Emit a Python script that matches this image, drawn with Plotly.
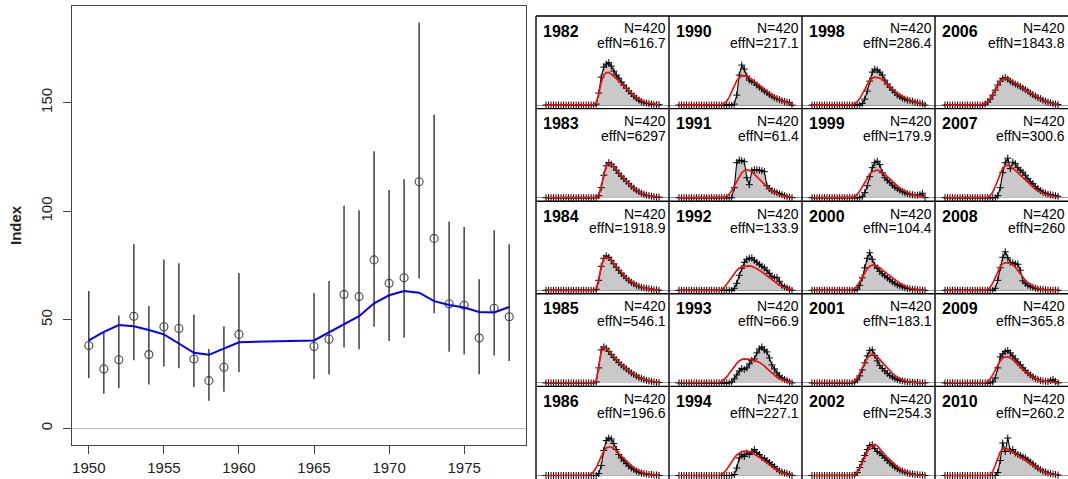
import plotly.graph_objects as go

# ---------------- survey index (left panel) ----------------
years = [1950, 1951, 1952, 1953, 1954, 1955, 1956, 1957, 1958, 1959, 1960,
         1965, 1966, 1967, 1968, 1969, 1970, 1971, 1972, 1973, 1974, 1975,
         1976, 1977, 1978]
index_obs = [38.2, 27.4, 31.6, 51.6, 34.0, 46.8, 46.0, 32.0, 22.0, 28.2, 43.3,
             37.7, 41.1, 61.7, 60.7, 77.6, 66.8, 69.4, 113.6, 87.5, 57.4, 56.7,
             41.6, 55.3, 51.4]
ci_upper = [63.3, 44.3, 52.0, 84.8, 56.4, 77.8, 76.1, 52.5, 36.6, 47.1, 71.6,
            62.4, 67.9, 102.5, 100.5, 127.6, 109.8, 114.7, 186.9, 144.6, 95.3,
            92.7, 68.7, 91.3, 84.8]
ci_lower = [23.2, 16.0, 18.6, 31.4, 20.2, 28.5, 27.7, 19.1, 12.8, 16.9, 26.0,
            22.8, 24.8, 37.3, 36.5, 46.8, 40.2, 41.7, 69.0, 53.0, 35.3, 34.0,
            24.9, 33.6, 31.1]
index_fit = [40.5, 44.5, 47.6, 47.0, 45.3, 43.3, 39.1, 34.8, 33.9, 36.8, 39.7,
             40.5, 44.3, 47.9, 51.7, 57.6, 61.3, 63.3, 62.5, 58.6, 56.8, 55.7,
             53.6, 53.4, 55.9]
x_ticks = [1950, 1955, 1960, 1965, 1970, 1975]
y_ticks = [0, 50, 100, 150]

# ---------------- length compositions (right panels) ----------------
length_bins = list(range(10, 102, 2))  # 46 bins

panel_years = [1982, 1983, 1984, 1985, 1986,
               1990, 1991, 1992, 1993, 1994,
               1998, 1999, 2000, 2001, 2002,
               2006, 2007, 2008, 2009, 2010]
n_samp = [420] * 20
eff_n = [616.7, 6297, 1918.9, 546.1, 196.6,
         217.1, 61.4, 133.9, 66.9, 227.1,
         286.4, 179.9, 104.4, 183.1, 254.3,
         1843.8, 300.6, 260, 365.8, 260.2]

obs_1982 = [0, 0, 0, 0, 0, 0, 0, 0, 0, 0, 0, 0, 0, 0, 0, 0, 0, 0, 0, 0,
            0.002, 0.024, 0.056, 0.076, 0.082, 0.085, 0.078, 0.068, 0.060, 0.054, 0.046, 0.040, 0.034,
            0.028, 0.023, 0.018, 0.014, 0.010, 0.007, 0.005, 0.004, 0.003, 0.002, 0.001, 0.001, 0.001]
exp_1982 = [0, 0, 0, 0, 0, 0, 0, 0, 0, 0, 0, 0, 0, 0, 0, 0, 0, 0, 0,
            0.001, 0.004, 0.022, 0.046, 0.060, 0.065, 0.065, 0.062, 0.058, 0.053, 0.048, 0.043, 0.038,
            0.033, 0.028, 0.023, 0.019, 0.015, 0.012, 0.009, 0.007, 0.005, 0.004, 0.003, 0.002, 0.001, 0.001]

obs_1983 = [0, 0, 0, 0, 0, 0, 0, 0, 0, 0, 0, 0, 0, 0, 0, 0, 0, 0, 0, 0, 0,
            0.004, 0.020, 0.045, 0.064, 0.070, 0.067, 0.062, 0.055, 0.049, 0.043, 0.038, 0.033, 0.028,
            0.023, 0.019, 0.015, 0.012, 0.009, 0.007, 0.005, 0.004, 0.003, 0.002, 0.001, 0.001]
exp_1983 = [0, 0, 0, 0, 0, 0, 0, 0, 0, 0, 0, 0, 0, 0, 0, 0, 0, 0, 0, 0,
            0.001, 0.006, 0.022, 0.046, 0.064, 0.069, 0.067, 0.062, 0.056, 0.050, 0.044, 0.038, 0.033,
            0.028, 0.023, 0.019, 0.015, 0.012, 0.009, 0.007, 0.005, 0.004, 0.003, 0.002, 0.001, 0.001]

obs_1984 = [0, 0, 0, 0, 0, 0, 0, 0, 0, 0, 0, 0, 0, 0, 0, 0, 0, 0, 0, 0,
            0.002, 0.020, 0.048, 0.064, 0.069, 0.066, 0.060, 0.053, 0.046, 0.040, 0.034, 0.029, 0.024,
            0.020, 0.016, 0.013, 0.010, 0.008, 0.006, 0.005, 0.004, 0.003, 0.002, 0.001, 0.001, 0]
exp_1984 = [0, 0, 0, 0, 0, 0, 0, 0, 0, 0, 0, 0, 0, 0, 0, 0, 0, 0, 0, 0,
            0.003, 0.022, 0.048, 0.063, 0.066, 0.064, 0.059, 0.053, 0.047, 0.041, 0.035, 0.030, 0.025,
            0.021, 0.017, 0.013, 0.010, 0.008, 0.006, 0.005, 0.004, 0.003, 0.002, 0.001, 0.001, 0]

obs_1985 = [0, 0, 0, 0, 0, 0, 0, 0, 0, 0, 0, 0, 0, 0, 0, 0, 0, 0, 0, 0,
            0.002, 0.030, 0.066, 0.072, 0.069, 0.063, 0.057, 0.051, 0.046, 0.041, 0.036, 0.032, 0.028,
            0.024, 0.020, 0.017, 0.014, 0.011, 0.009, 0.007, 0.005, 0.004, 0.003, 0.002, 0.001, 0.001]
exp_1985 = [0, 0, 0, 0, 0, 0, 0, 0, 0, 0, 0, 0, 0, 0, 0, 0, 0, 0, 0, 0,
            0.004, 0.030, 0.062, 0.071, 0.069, 0.064, 0.058, 0.052, 0.047, 0.042, 0.037, 0.032, 0.028,
            0.024, 0.020, 0.017, 0.014, 0.011, 0.009, 0.007, 0.005, 0.004, 0.003, 0.002, 0.001, 0.001]

obs_1986 = [0, 0, 0, 0, 0, 0, 0, 0, 0, 0, 0, 0, 0, 0, 0, 0, 0, 0, 0, 0, 0,
            0.004, 0.020, 0.050, 0.070, 0.075, 0.073, 0.064, 0.052, 0.042, 0.035, 0.029, 0.024, 0.019,
            0.015, 0.012, 0.009, 0.007, 0.005, 0.004, 0.003, 0.002, 0.002, 0.001, 0.001, 0]
exp_1986 = [0, 0, 0, 0, 0, 0, 0, 0, 0, 0, 0, 0, 0, 0, 0, 0, 0,
            0.001, 0.003, 0.008, 0.016, 0.027, 0.039, 0.049, 0.055, 0.057, 0.057, 0.054, 0.049, 0.044,
            0.038, 0.033, 0.028, 0.023, 0.019, 0.015, 0.012, 0.009, 0.007, 0.005, 0.004, 0.003, 0.002,
            0.001, 0.001, 0]

obs_1990 = [0, 0, 0, 0, 0, 0, 0, 0, 0, 0, 0, 0, 0, 0, 0, 0, 0, 0, 0, 0, 0, 0,
            0.002, 0.020, 0.060, 0.080, 0.072, 0.058, 0.050, 0.047, 0.045, 0.040, 0.036, 0.032, 0.028,
            0.025, 0.021, 0.018, 0.015, 0.013, 0.011, 0.009, 0.007, 0.006, 0.005, 0]
exp_1990 = [0, 0, 0, 0, 0, 0, 0, 0, 0, 0, 0, 0, 0, 0, 0, 0, 0,
            0.001, 0.003, 0.008, 0.016, 0.027, 0.039, 0.049, 0.055, 0.058, 0.059, 0.058, 0.055, 0.051,
            0.047, 0.043, 0.039, 0.035, 0.031, 0.027, 0.023, 0.020, 0.017, 0.014, 0.011, 0.009, 0.007,
            0.005, 0.003, 0.002]

obs_1991 = [0, 0, 0, 0, 0, 0, 0, 0, 0, 0, 0, 0, 0, 0, 0, 0, 0, 0, 0, 0, 0, 0,
            0.020, 0.070, 0.075, 0.074, 0.072, 0.040, 0.026, 0.054, 0.056, 0.056, 0.055, 0.054, 0.052,
            0.024, 0.018, 0.014, 0.012, 0.010, 0.008, 0.006, 0.004, 0.002, 0.001, 0]
exp_1991 = [0, 0, 0, 0, 0, 0, 0, 0, 0, 0, 0, 0, 0, 0, 0, 0, 0, 0,
            0.001, 0.003, 0.007, 0.014, 0.023, 0.033, 0.042, 0.050, 0.054, 0.056, 0.055, 0.052, 0.047,
            0.042, 0.036, 0.031, 0.026, 0.021, 0.017, 0.014, 0.011, 0.008, 0.006, 0.004, 0.003, 0.002,
            0.001, 0.001]

obs_1992 = [0, 0, 0, 0, 0, 0, 0, 0, 0, 0, 0, 0, 0, 0, 0, 0, 0, 0, 0, 0, 0, 0,
            0.004, 0.014, 0.030, 0.044, 0.056, 0.062, 0.064, 0.065, 0.060, 0.056, 0.052, 0.048, 0.045,
            0.040, 0.034, 0.028, 0.025, 0.026, 0.018, 0.010, 0.007, 0.005, 0.002, 0]
exp_1992 = [0, 0, 0, 0, 0, 0, 0, 0, 0, 0, 0, 0, 0, 0, 0, 0, 0,
            0.002, 0.006, 0.012, 0.019, 0.027, 0.034, 0.040, 0.044, 0.047, 0.048, 0.049, 0.049, 0.048,
            0.046, 0.043, 0.040, 0.037, 0.033, 0.029, 0.025, 0.021, 0.017, 0.014, 0.010, 0.007, 0.005,
            0.003, 0.002, 0.001]

obs_1993 = [0, 0, 0, 0, 0, 0, 0, 0, 0, 0, 0, 0, 0, 0, 0, 0, 0, 0, 0, 0, 0,
            0.002, 0.008, 0.016, 0.024, 0.029, 0.027, 0.030, 0.038, 0.045, 0.048, 0.060, 0.068, 0.072,
            0.066, 0.062, 0.050, 0.036, 0.028, 0.020, 0.014, 0.010, 0.007, 0.005, 0.002, 0]
exp_1993 = [0, 0, 0, 0, 0, 0, 0, 0, 0, 0, 0, 0, 0, 0, 0, 0,
            0.001, 0.003, 0.007, 0.012, 0.019, 0.026, 0.033, 0.039, 0.044, 0.047, 0.048, 0.048, 0.047,
            0.046, 0.045, 0.043, 0.041, 0.038, 0.034, 0.029, 0.024, 0.019, 0.015, 0.011, 0.008, 0.006,
            0.004, 0.003, 0.002, 0.001]

obs_1994 = [0, 0, 0, 0, 0, 0, 0, 0, 0, 0, 0, 0, 0, 0, 0, 0, 0, 0, 0, 0, 0, 0,
            0.002, 0.015, 0.035, 0.042, 0.038, 0.045, 0.042, 0.048, 0.052, 0.046, 0.042, 0.036, 0.034,
            0.030, 0.026, 0.022, 0.018, 0.013, 0.009, 0.007, 0.005, 0.004, 0.002, 0]
exp_1994 = [0, 0, 0, 0, 0, 0, 0, 0, 0, 0, 0, 0, 0, 0, 0, 0, 0,
            0.002, 0.006, 0.012, 0.020, 0.028, 0.035, 0.041, 0.045, 0.048, 0.049, 0.049, 0.048, 0.046,
            0.043, 0.040, 0.037, 0.033, 0.029, 0.025, 0.021, 0.017, 0.014, 0.011, 0.008, 0.006, 0.004,
            0.003, 0.002, 0.001]

obs_1998 = [0, 0, 0, 0, 0, 0, 0, 0, 0, 0, 0, 0, 0, 0, 0, 0, 0, 0, 0, 0,
            0.003, 0.012, 0.028, 0.048, 0.066, 0.072, 0.070, 0.066, 0.060, 0.050, 0.042, 0.036, 0.030,
            0.025, 0.020, 0.017, 0.014, 0.012, 0.010, 0.009, 0.008, 0.006, 0.005, 0.004, 0.003, 0]
exp_1998 = [0, 0, 0, 0, 0, 0, 0, 0, 0, 0, 0, 0, 0, 0, 0, 0,
            0.001, 0.003, 0.007, 0.013, 0.021, 0.031, 0.041, 0.049, 0.054, 0.056, 0.055, 0.054, 0.051,
            0.047, 0.042, 0.037, 0.032, 0.028, 0.024, 0.020, 0.017, 0.014, 0.012, 0.010, 0.008, 0.006,
            0.005, 0.004, 0.003, 0.002]

obs_1999 = [0, 0, 0, 0, 0, 0, 0, 0, 0, 0, 0, 0, 0, 0, 0, 0, 0, 0, 0, 0,
            0.002, 0.010, 0.024, 0.042, 0.060, 0.070, 0.073, 0.066, 0.050, 0.040, 0.035, 0.030, 0.025,
            0.021, 0.018, 0.015, 0.012, 0.010, 0.008, 0.007, 0.006, 0.005, 0.005, 0.006, 0.009, 0]
exp_1999 = [0, 0, 0, 0, 0, 0, 0, 0, 0, 0, 0, 0, 0, 0, 0, 0,
            0.001, 0.003, 0.007, 0.013, 0.021, 0.030, 0.039, 0.047, 0.052, 0.054, 0.055, 0.054, 0.051,
            0.047, 0.042, 0.037, 0.032, 0.027, 0.023, 0.019, 0.016, 0.013, 0.010, 0.008, 0.006, 0.005,
            0.004, 0.003, 0.002, 0.001]

obs_2000 = [0, 0, 0, 0, 0, 0, 0, 0, 0, 0, 0, 0, 0, 0, 0, 0, 0, 0,
            0.002, 0.010, 0.025, 0.045, 0.064, 0.075, 0.062, 0.050, 0.044, 0.038, 0.033, 0.029, 0.025,
            0.021, 0.017, 0.014, 0.011, 0.009, 0.007, 0.005, 0.004, 0.003, 0.002, 0.002, 0.001, 0.001,
            0, 0]
exp_2000 = [0, 0, 0, 0, 0, 0, 0, 0, 0, 0, 0, 0, 0, 0, 0, 0,
            0.001, 0.004, 0.009, 0.017, 0.026, 0.035, 0.043, 0.048, 0.050, 0.050, 0.048, 0.045, 0.041,
            0.037, 0.033, 0.029, 0.025, 0.021, 0.017, 0.014, 0.011, 0.008, 0.006, 0.004, 0.003, 0.002,
            0.001, 0.001, 0, 0]

obs_2001 = [0, 0, 0, 0, 0, 0, 0, 0, 0, 0, 0, 0, 0, 0, 0, 0, 0,
            0.002, 0.006, 0.014, 0.026, 0.040, 0.054, 0.065, 0.066, 0.055, 0.044, 0.035, 0.029, 0.024,
            0.019, 0.015, 0.012, 0.009, 0.007, 0.005, 0.004, 0.003, 0.002, 0.002, 0.001, 0.001, 0.001,
            0, 0, 0]
exp_2001 = [0, 0, 0, 0, 0, 0, 0, 0, 0, 0, 0, 0, 0, 0, 0, 0,
            0.001, 0.004, 0.010, 0.019, 0.030, 0.041, 0.050, 0.055, 0.057, 0.056, 0.052, 0.047, 0.041,
            0.035, 0.029, 0.024, 0.019, 0.015, 0.011, 0.008, 0.006, 0.004, 0.003, 0.002, 0.001, 0.001,
            0, 0, 0, 0]

obs_2002 = [0, 0, 0, 0, 0, 0, 0, 0, 0, 0, 0, 0, 0, 0, 0, 0, 0,
            0.001, 0.006, 0.016, 0.028, 0.040, 0.052, 0.060, 0.062, 0.054, 0.048, 0.045, 0.040, 0.035,
            0.030, 0.025, 0.021, 0.017, 0.014, 0.011, 0.009, 0.007, 0.005, 0.004, 0.003, 0.002, 0.002,
            0.001, 0.001, 0]
exp_2002 = [0, 0, 0, 0, 0, 0, 0, 0, 0, 0, 0, 0, 0, 0, 0, 0, 0,
            0.002, 0.007, 0.015, 0.026, 0.038, 0.049, 0.057, 0.061, 0.062, 0.059, 0.054, 0.048, 0.042,
            0.036, 0.031, 0.026, 0.021, 0.017, 0.013, 0.010, 0.008, 0.006, 0.004, 0.003, 0.002, 0.001,
            0.001, 0, 0]

obs_2006 = [0, 0, 0, 0, 0, 0, 0, 0, 0, 0, 0, 0, 0, 0, 0, 0,
            0.002, 0.006, 0.012, 0.020, 0.030, 0.040, 0.048, 0.053, 0.055, 0.052, 0.048, 0.045, 0.042,
            0.040, 0.037, 0.034, 0.031, 0.028, 0.024, 0.021, 0.018, 0.015, 0.013, 0.010, 0.008, 0.006,
            0.005, 0.003, 0.002, 0.001]
exp_2006 = [0, 0, 0, 0, 0, 0, 0, 0, 0, 0, 0, 0, 0, 0, 0,
            0.001, 0.003, 0.007, 0.013, 0.021, 0.030, 0.039, 0.047, 0.052, 0.054, 0.053, 0.050, 0.047,
            0.044, 0.041, 0.037, 0.034, 0.030, 0.027, 0.024, 0.021, 0.018, 0.015, 0.012, 0.010, 0.008,
            0.006, 0.004, 0.003, 0.002, 0.001]

obs_2007 = [0, 0, 0, 0, 0, 0, 0, 0, 0, 0, 0, 0, 0, 0, 0, 0, 0, 0, 0, 0, 0,
            0.004, 0.020, 0.050, 0.070, 0.079, 0.058, 0.071, 0.068, 0.060, 0.055, 0.051, 0.045, 0.038,
            0.032, 0.028, 0.022, 0.018, 0.014, 0.011, 0.009, 0.007, 0.006, 0.005, 0.004, 0.003]
exp_2007 = [0, 0, 0, 0, 0, 0, 0, 0, 0, 0, 0, 0, 0, 0, 0, 0, 0,
            0.001, 0.004, 0.011, 0.022, 0.036, 0.050, 0.060, 0.064, 0.065, 0.063, 0.059, 0.055, 0.050,
            0.045, 0.040, 0.035, 0.030, 0.025, 0.021, 0.017, 0.014, 0.011, 0.009, 0.007, 0.005, 0.004,
            0.003, 0.002, 0.001]

obs_2008 = [0, 0, 0, 0, 0, 0, 0, 0, 0, 0, 0, 0, 0, 0, 0, 0, 0, 0, 0, 0,
            0.004, 0.020, 0.045, 0.066, 0.077, 0.065, 0.056, 0.055, 0.053, 0.052, 0.040, 0.019, 0.014,
            0.010, 0.008, 0.006, 0.004, 0.003, 0.002, 0.002, 0.001, 0.001, 0, 0, 0, 0]
exp_2008 = [0, 0, 0, 0, 0, 0, 0, 0, 0, 0, 0, 0, 0, 0, 0, 0, 0,
            0.002, 0.006, 0.014, 0.025, 0.037, 0.047, 0.053, 0.055, 0.055, 0.054, 0.051, 0.046, 0.040,
            0.033, 0.026, 0.020, 0.015, 0.011, 0.008, 0.006, 0.004, 0.003, 0.002, 0.001, 0.001, 0,
            0, 0, 0]

obs_2009 = [0, 0, 0, 0, 0, 0, 0, 0, 0, 0, 0, 0, 0, 0, 0, 0, 0, 0, 0,
            0.002, 0.010, 0.030, 0.052, 0.058, 0.063, 0.065, 0.060, 0.054, 0.048, 0.042, 0.036, 0.030,
            0.025, 0.020, 0.016, 0.012, 0.009, 0.007, 0.005, 0.004, 0.003, 0.003, 0.005, 0.007, 0.003,
            0]
exp_2009 = [0, 0, 0, 0, 0, 0, 0, 0, 0, 0, 0, 0, 0, 0, 0, 0, 0,
            0.003, 0.008, 0.016, 0.026, 0.036, 0.044, 0.050, 0.052, 0.052, 0.050, 0.046, 0.041, 0.036,
            0.031, 0.026, 0.022, 0.018, 0.014, 0.011, 0.008, 0.006, 0.005, 0.004, 0.003, 0.002, 0.001,
            0.001, 0.001, 0]

obs_2010 = [0, 0, 0, 0, 0, 0, 0, 0, 0, 0, 0, 0, 0, 0, 0, 0, 0, 0, 0, 0, 0,
            0.006, 0.030, 0.065, 0.048, 0.075, 0.049, 0.052, 0.045, 0.042, 0.040, 0.037, 0.035, 0.031,
            0.027, 0.023, 0.019, 0.015, 0.012, 0.009, 0.007, 0.005, 0.004, 0.003, 0.002, 0.001]
exp_2010 = [0, 0, 0, 0, 0, 0, 0, 0, 0, 0, 0, 0, 0, 0, 0, 0, 0, 0,
            0.002, 0.008, 0.020, 0.035, 0.047, 0.053, 0.054, 0.053, 0.050, 0.047, 0.043, 0.040, 0.037,
            0.034, 0.031, 0.027, 0.024, 0.020, 0.017, 0.014, 0.011, 0.008, 0.006, 0.004, 0.003, 0.002,
            0.001, 0.001]

observed = {
    1982: obs_1982, 1983: obs_1983, 1984: obs_1984, 1985: obs_1985, 1986: obs_1986,
    1990: obs_1990, 1991: obs_1991, 1992: obs_1992, 1993: obs_1993, 1994: obs_1994,
    1998: obs_1998, 1999: obs_1999, 2000: obs_2000, 2001: obs_2001, 2002: obs_2002,
    2006: obs_2006, 2007: obs_2007, 2008: obs_2008, 2009: obs_2009, 2010: obs_2010,
}
expected = {
    1982: exp_1982, 1983: exp_1983, 1984: exp_1984, 1985: exp_1985, 1986: exp_1986,
    1990: exp_1990, 1991: exp_1991, 1992: exp_1992, 1993: exp_1993, 1994: exp_1994,
    1998: exp_1998, 1999: exp_1999, 2000: exp_2000, 2001: exp_2001, 2002: exp_2002,
    2006: exp_2006, 2007: exp_2007, 2008: exp_2008, 2009: exp_2009, 2010: exp_2010,
}
for yr in panel_years:
    for name, table in (("obs", observed), ("exp", expected)):
        if len(table[yr]) != len(length_bins):
            raise ValueError(f"{name}_{yr} has {len(table[yr])} values")

# ---------------- page geometry (pixels) ----------------
W, H = 1068, 479
FONT = "Liberation Sans, Arial, Helvetica, sans-serif"
AXIS_FONT = "Liberation Sans Narrow, Arial Narrow, Liberation Sans, sans-serif"


def fx(px):
    return px / W


def fy(py):
    return 1 - py / H


GRID_LEFT, GRID_TOP = 536, 16
COL_W, ROW_H = 133, 92.6
N_COLS, N_ROWS = 4, 5

fig = go.Figure()

# ---- left panel: index with intervals and smoother ----
bar_x, bar_y = [], []
for yr, lo, hi in zip(years, ci_lower, ci_upper):
    bar_x += [yr, yr, None]
    bar_y += [lo, hi, None]

fig.add_trace(go.Scatter(x=bar_x, y=bar_y, mode="lines",
                         line=dict(color="#333333", width=1.4),
                         hoverinfo="skip", xaxis="x", yaxis="y"))
fig.add_trace(go.Scatter(x=years, y=index_obs, mode="markers",
                         marker=dict(symbol="circle-open", size=8, color="#444444",
                                     line=dict(width=1.1, color="#444444")),
                         xaxis="x", yaxis="y"))
fig.add_trace(go.Scatter(x=years, y=index_fit, mode="lines",
                         line=dict(color="#0000ff", width=2),
                         xaxis="x", yaxis="y"))

layout = dict(
    width=W, height=H,
    margin=dict(l=0, r=0, t=0, b=0, autoexpand=False),
    paper_bgcolor="white", plot_bgcolor="white",
    showlegend=False,
    font=dict(family=FONT, color="#222222"),
    xaxis=dict(domain=[fx(72), fx(526)], range=[1948.88, 1979.12],
               automargin=False,
               tickmode="array", tickvals=x_ticks, ticks="outside", ticklen=8,
               tickcolor="#444444", tickwidth=1,
               showline=True, linecolor="#444444", linewidth=1, mirror=True,
               showgrid=False, zeroline=False,
               tickfont=dict(size=15, family=AXIS_FONT, color="#222222"),
               ticklabelstandoff=1),
    yaxis=dict(domain=[fy(444.5), fy(6)], range=[-7.4, 194.5],
               automargin=False,
               tickmode="array", tickvals=y_ticks, ticks="outside", ticklen=8,
               tickcolor="#444444", tickwidth=1, tickangle=-90,
               showline=True, linecolor="#444444", linewidth=1, mirror=True,
               showgrid=False, zeroline=True, zerolinecolor="#bbbbbb",
               zerolinewidth=1,
               tickfont=dict(size=15, family=AXIS_FONT, color="#222222"),
               ticklabelstandoff=5),
)

annotations = [
    dict(text="<b>Index</b>", x=fx(15), y=fy(225), xref="paper", yref="paper",
         textangle=-90, showarrow=False, xanchor="center", yanchor="middle",
         font=dict(size=15, family=AXIS_FONT, color="#222222")),
]

# ---- right panels: observed vs expected length compositions ----
px_per_unit = 0.002
x_lo = -10 / (113 / 45)
x_hi = 45 + 10 / (113 / 45)
for i, yr in enumerate(panel_years):
    col, row = i // N_ROWS, i % N_ROWS
    k = i + 2
    left = GRID_LEFT + COL_W * col
    right = min(W, left + COL_W)
    top = GRID_TOP + ROW_H * row
    bottom = min(H, top + ROW_H)
    height_px = bottom - top

    xname, yname = f"x{k}", f"y{k}"
    bin_idx = list(range(len(length_bins)))

    fig.add_trace(go.Scatter(
        x=bin_idx, y=observed[yr], mode="lines+markers",
        fill="tozeroy", fillcolor="#c9c9c9",
        line=dict(color="black", width=1.1),
        marker=dict(symbol="cross-thin", size=5, color="black",
                    line=dict(width=1, color="black")),
        customdata=length_bins, xaxis=xname, yaxis=yname))
    fig.add_trace(go.Scatter(
        x=bin_idx, y=expected[yr], mode="lines",
        line=dict(color="#ee1111", width=1.7),
        customdata=length_bins, xaxis=xname, yaxis=yname))

    layout[f"xaxis{k}"] = dict(domain=[fx(left), fx(right)], range=[x_lo, x_hi],
                               visible=False, automargin=False, anchor=yname)
    layout[f"yaxis{k}"] = dict(domain=[fy(bottom), fy(top)],
                               range=[-3.5 * px_per_unit, (height_px - 3.5) * px_per_unit],
                               showgrid=False, showline=False, ticks="",
                               showticklabels=False, zeroline=True,
                               zerolinecolor="#999999", zerolinewidth=1,
                               automargin=False, anchor=xname)

    annotations.append(dict(text=f"<b>{yr}</b>", x=fx(left + 5), y=fy(top + 15),
                            xref="paper", yref="paper", showarrow=False,
                            xanchor="left", yanchor="middle",
                            font=dict(size=16, family=FONT, color="black")))
    annotations.append(dict(text=f"N={n_samp[i]}", x=fx(right - 1), y=fy(top + 12.5),
                            xref="paper", yref="paper", showarrow=False,
                            xanchor="right", yanchor="middle",
                            font=dict(size=14, family=FONT, color="black")))
    annotations.append(dict(text=f"effN={eff_n[i]:g}", x=fx(right - 1), y=fy(top + 27),
                            xref="paper", yref="paper", showarrow=False,
                            xanchor="right", yanchor="middle",
                            font=dict(size=14, family=FONT, color="black")))

# panel frame lines
shapes = []
for c in range(N_COLS):
    xx = fx(GRID_LEFT + COL_W * c)
    shapes.append(dict(type="line", xref="paper", yref="paper",
                       x0=xx, x1=xx, y0=0, y1=fy(GRID_TOP),
                       line=dict(color="black", width=1.4)))
for r in range(N_ROWS):
    yy = fy(GRID_TOP + ROW_H * r)
    shapes.append(dict(type="line", xref="paper", yref="paper",
                       x0=fx(GRID_LEFT), x1=1, y0=yy, y1=yy,
                       line=dict(color="black", width=1.4)))

layout["annotations"] = annotations
layout["shapes"] = shapes
fig.update_layout(**layout)

fig.write_html("out.html")
